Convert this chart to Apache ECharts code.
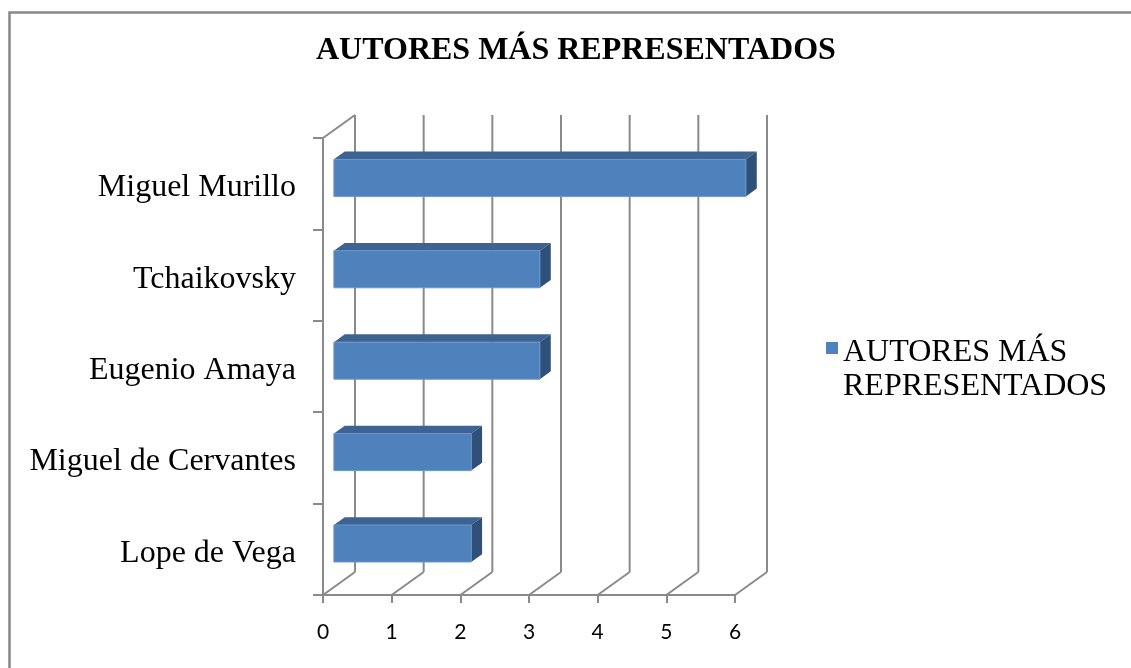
<!DOCTYPE html>
<html>
<head>
<meta charset="utf-8">
<script src="https://cdn.jsdelivr.net/npm/echarts@6/dist/echarts.min.js"></script>
<style>
  html, body { margin: 0; padding: 0; background: #fff; }
  #chart { width: 1131px; height: 668px; }
</style>
</head>
<body>
<div id="chart"></div>
<script>
// datos del gráfico
var autores = ['Lope de Vega', 'Miguel de Cervantes', 'Eugenio Amaya', 'Tchaikovsky', 'Miguel Murillo'];
var obras = [2, 2, 3, 3, 6];
var ticksX = [0, 1, 2, 3, 4, 5, 6];
var titulo = 'AUTORES MÁS REPRESENTADOS';

var chart = echarts.init(document.getElementById('chart'));

// desplazamiento de profundidad (efecto 3D)
var DX = 32, DY = -23;
var F1 = 0.34, F2 = 0.68; // profundidad de la barra
var gris = '#8a8a8a';

function renderRejilla(params, api) {
    var cs = params.coordSys;
    var x = api.coord([api.value(0), 0])[0];
    var bottom = cs.y + cs.height, top = cs.y;
    var children = [
        { type: 'line', shape: { x1: x, y1: bottom, x2: x + DX, y2: bottom + DY }, style: { stroke: gris, lineWidth: 2 } },
        { type: 'line', shape: { x1: x + DX, y1: bottom + DY, x2: x + DX, y2: top + DY }, style: { stroke: gris, lineWidth: 2 } }
    ];
    if (api.value(0) === 0) {
        children.push({ type: 'line', shape: { x1: x, y1: top, x2: x + DX, y2: top + DY }, style: { stroke: gris, lineWidth: 2 } });
    }
    return { type: 'group', children: children };
}

function renderBarra(params, api) {
    var idx = api.value(1);
    var ini = api.coord([0, idx]);
    var fin = api.coord([api.value(0), idx]);
    var alto = api.size([0, 1])[1] * 0.405;
    var x0 = ini[0] + F1 * DX, x1 = fin[0] + F1 * DX;
    var yc = ini[1] + F1 * DY + 2;
    var yt = yc - alto / 2, yb = yc + alto / 2;
    var ddx = (F2 - F1) * DX, ddy = (F2 - F1) * DY;
    return {
        type: 'group',
        children: [
            { type: 'polygon', shape: { points: [[x0, yt], [x1, yt], [x1 + ddx, yt + ddy], [x0 + ddx, yt + ddy]] }, style: { fill: '#3c6391' } },
            { type: 'polygon', shape: { points: [[x1, yt], [x1 + ddx, yt + ddy], [x1 + ddx, yb + ddy], [x1, yb]] }, style: { fill: '#2f5079' } },
            { type: 'rect', shape: { x: x0, y: yt, width: x1 - x0, height: alto }, style: { fill: '#4f81bd', stroke: '#6b97cc', lineWidth: 1 } }
        ]
    };
}

var option = {
    animation: false,
    backgroundColor: '#fff',
    title: {
        text: titulo,
        left: 311,
        top: 30,
        textStyle: { fontFamily: 'Liberation Serif', fontWeight: 'bold', fontSize: 32, color: '#000' }
    },
    legend: {
        left: 826,
        top: 292,
        padding: 0,
        itemWidth: 12,
        itemHeight: 12,
        itemGap: 0,
        data: [{ name: titulo, icon: 'rect' }],
        formatter: function () { return '{s| }\n{a|AUTORES MÁS}\n{a|REPRESENTADOS}'; },
        textStyle: {
            fontFamily: 'Liberation Serif', fontSize: 32, color: '#000',
            rich: {
                s: { fontSize: 10, height: 44, lineHeight: 44 },
                a: { fontFamily: 'Liberation Serif', fontSize: 32, color: '#000', lineHeight: 34 }
            }
        }
    },
    grid: { left: 323, right: 396, top: 138, bottom: 73, containLabel: false },
    xAxis: {
        type: 'value',
        min: 0,
        max: 6,
        interval: 1,
        axisLine: { show: true, lineStyle: { color: gris, width: 2 } },
        axisTick: { show: true, length: 8, lineStyle: { color: gris, width: 2 } },
        splitLine: { show: false },
        axisLabel: { margin: 27, fontFamily: 'Lato', fontSize: 21, color: '#000' }
    },
    yAxis: {
        type: 'category',
        data: autores,
        axisLine: { show: true, lineStyle: { color: gris, width: 2 } },
        axisTick: { show: true, length: 10, lineStyle: { color: gris, width: 2 } },
        splitLine: { show: false },
        axisLabel: {
            margin: 27,
            formatter: function (v) { return '{n|' + v + '}'; },
            rich: { n: { fontFamily: 'Liberation Serif', fontSize: 32, color: '#000', padding: [8, 0, 0, 0] } }
        }
    },
    series: [
        {
            name: 'rejilla',
            type: 'custom',
            renderItem: renderRejilla,
            clip: false,
            silent: true,
            z: 1,
            data: ticksX.map(function (v) { return [v, 0]; })
        },
        {
            name: titulo,
            type: 'custom',
            renderItem: renderBarra,
            clip: false,
            z: 3,
            itemStyle: { color: '#4f81bd' },
            data: obras.map(function (v, i) { return [v, i]; })
        }
    ],
    graphic: [
        { type: 'rect', left: 7, top: 10, shape: { x: 0, y: 0, width: 1140, height: 680 }, style: { fill: 'none', stroke: '#888', lineWidth: 2.5 }, silent: true }
    ]
};

chart.setOption(option);
</script>
</body>
</html>
